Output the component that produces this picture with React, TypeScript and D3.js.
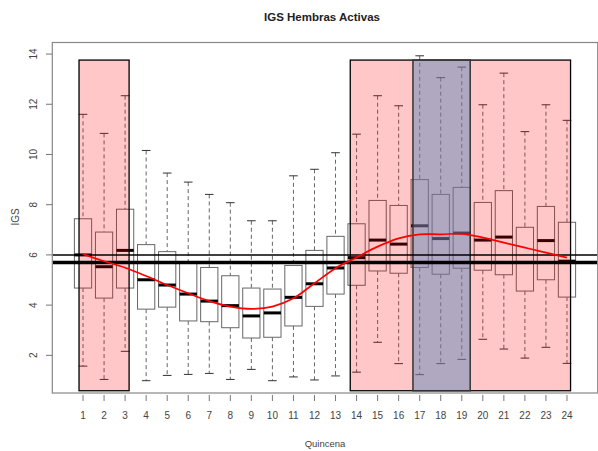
import * as d3 from "d3";

// quincena labels and box statistics
const quincenas = [1, 2, 3, 4, 5, 6, 7, 8, 9, 10, 11, 12, 13, 14, 15, 16, 17, 18, 19, 20, 21, 22, 23, 24];
const upperWhisker = [11.6, 10.84, 12.34, 10.16, 9.26, 8.9, 8.41, 8.08, 7.36, 7.36, 9.15, 9.41, 10.07, 10.81, 12.34, 11.94, 13.93, 13.06, 13.48, 11.98, 13.24, 10.91, 11.98, 11.36];
const q3 = [7.44, 6.91, 7.82, 6.41, 6.13, 5.66, 5.5, 5.17, 4.68, 4.64, 5.58, 6.18, 6.74, 7.24, 8.17, 7.97, 9.0, 8.41, 8.69, 8.09, 8.56, 7.1, 7.93, 7.3];
const medians = [6.0, 5.53, 6.18, 5.01, 4.8, 4.44, 4.16, 3.98, 3.57, 3.69, 4.31, 4.85, 5.48, 5.89, 6.59, 6.43, 7.16, 6.65, 6.87, 6.59, 6.71, 5.7, 6.57, 5.75];
const q1 = [4.68, 4.28, 4.68, 3.84, 3.92, 3.37, 3.34, 3.1, 2.69, 2.72, 3.17, 3.95, 4.44, 4.79, 5.36, 5.27, 5.5, 5.23, 5.47, 5.39, 5.21, 4.56, 5.01, 4.32];
const lowerWhisker = [1.57, 1.04, 2.16, 0.99, 1.2, 1.24, 1.28, 1.04, 1.44, 0.99, 1.14, 1.02, 1.18, 1.33, 2.52, 1.67, 1.23, 1.67, 1.84, 2.64, 2.25, 1.89, 2.32, 1.68];
// fitted trend (red curve)
const trend = [6.03, 5.75, 5.49, 5.16, 4.8, 4.47, 4.16, 3.94, 3.85, 3.94, 4.27, 4.87, 5.47, 5.9, 6.33, 6.66, 6.82, 6.82, 6.84, 6.69, 6.49, 6.29, 6.09, 5.89];
const yTicks = [2, 4, 6, 8, 10, 12, 14];
// shaded periods
const pinkStart = [0.81, 13.7];
const pinkEnd = [3.19, 24.17];
const purpleStart = [16.68];
const purpleEnd = [19.4];
const bandLow = 0.59;
const bandHigh = 13.76;
// reference lines
const refLines = [6.0, 5.7];
const refWidths = [1.5, 3.5];

export default function App() {
  const W = 598;
  const H = 451;
  const x = d3.scaleLinear().domain([-0.46, 25.46]).range([52.3, 597.7]);
  const y = d3.scaleLinear().domain([0.5, 14.46]).range([393, 42.5]);
  const bw = (x(1) - x(0)) * 0.82;
  const sw = bw * 0.5;

  const line = d3
    .line<number>()
    .x((_, i) => x(quincenas[i]))
    .y((d) => y(d))
    .curve(d3.curveCatmullRom);

  const font = "'Liberation Sans', Arial, sans-serif";
  const txt = "#444";

  return (
    <svg
      width={W}
      height={H}
      style={{ position: "absolute", left: 0, top: 0, background: "#fff" }}
    >
      <defs>
        <clipPath id="plot">
          <rect x={x(-0.46)} y={y(14.46)} width={x(25.46) - x(-0.46)} height={y(0.5) - y(14.46)} />
        </clipPath>
      </defs>

      {/* boxplots */}
      {quincenas.map((q, i) => (
        <g key={q}>
          <line x1={x(q)} x2={x(q)} y1={y(upperWhisker[i])} y2={y(q3[i])} stroke="#666" strokeDasharray="4,3" />
          <line x1={x(q)} x2={x(q)} y1={y(q1[i])} y2={y(lowerWhisker[i])} stroke="#666" strokeDasharray="4,3" />
          <line x1={x(q) - sw / 2} x2={x(q) + sw / 2} y1={y(upperWhisker[i])} y2={y(upperWhisker[i])} stroke="#333" />
          <line x1={x(q) - sw / 2} x2={x(q) + sw / 2} y1={y(lowerWhisker[i])} y2={y(lowerWhisker[i])} stroke="#333" />
          <rect x={x(q) - bw / 2} y={y(q3[i])} width={bw} height={y(q1[i]) - y(q3[i])} fill="#fff" stroke="#666" />
          <line x1={x(q) - bw / 2} x2={x(q) + bw / 2} y1={y(medians[i])} y2={y(medians[i])} stroke="#000" strokeWidth={3} />
        </g>
      ))}

      {/* shaded periods */}
      {pinkStart.map((s, i) => (
        <rect
          key={"p" + i}
          x={x(s)}
          y={y(bandHigh)}
          width={x(pinkEnd[i]) - x(s)}
          height={y(bandLow) - y(bandHigh)}
          fill="rgba(255,0,0,0.22)"
          stroke="#000"
          strokeWidth={1.3}
        />
      ))}
      {purpleStart.map((s, i) => (
        <rect
          key={"u" + i}
          x={x(s)}
          y={y(bandHigh)}
          width={x(purpleEnd[i]) - x(s)}
          height={y(bandLow) - y(bandHigh)}
          fill="rgba(97,137,185,0.5)"
          stroke="#333"
          strokeWidth={1.5}
        />
      ))}

      {/* reference lines */}
      <g clipPath="url(#plot)">
        {refLines.map((v, i) => (
          <line key={v} x1={x(-0.46)} x2={x(25.46)} y1={y(v)} y2={y(v)} stroke="#000" strokeWidth={refWidths[i]} />
        ))}
      </g>

      {/* trend */}
      <path d={line(trend) ?? ""} fill="none" stroke="#ff0000" strokeWidth={1.7} />

      {/* frame */}
      <rect
        x={x(-0.46)}
        y={y(14.46)}
        width={x(25.46) - x(-0.46)}
        height={y(0.5) - y(14.46)}
        fill="none"
        stroke="#888"
        strokeWidth={1.2}
      />

      {/* x axis */}
      {quincenas.map((q) => (
        <g key={"xt" + q}>
          <line x1={x(q)} x2={x(q)} y1={395} y2={401} stroke="#777" />
          <text x={x(q)} y={419} textAnchor="middle" fontFamily={font} fontSize={10} fill={txt}>
            {q}
          </text>
        </g>
      ))}

      {/* y axis */}
      {yTicks.map((t) => (
        <g key={"yt" + t}>
          <line x1={46} x2={52} y1={y(t)} y2={y(t)} stroke="#777" />
          <text
            transform={`translate(37,${y(t)}) rotate(-90)`}
            textAnchor="middle"
            fontFamily={font}
            fontSize={10}
            fill={txt}
          >
            {t}
          </text>
        </g>
      ))}

      <text x={322} y={21} textAnchor="middle" fontFamily={font} fontSize={11.5} fontWeight="bold" fill="#222">
        IGS Hembras Activas
      </text>
      <text x={325} y={447} textAnchor="middle" fontFamily={font} fontSize={9.5} fill={txt}>
        Quincena
      </text>
      <text
        transform={`translate(19,217) rotate(-90)`}
        textAnchor="middle"
        fontFamily={font}
        fontSize={10}
        fill={txt}
      >
        IGS
      </text>
    </svg>
  );
}
